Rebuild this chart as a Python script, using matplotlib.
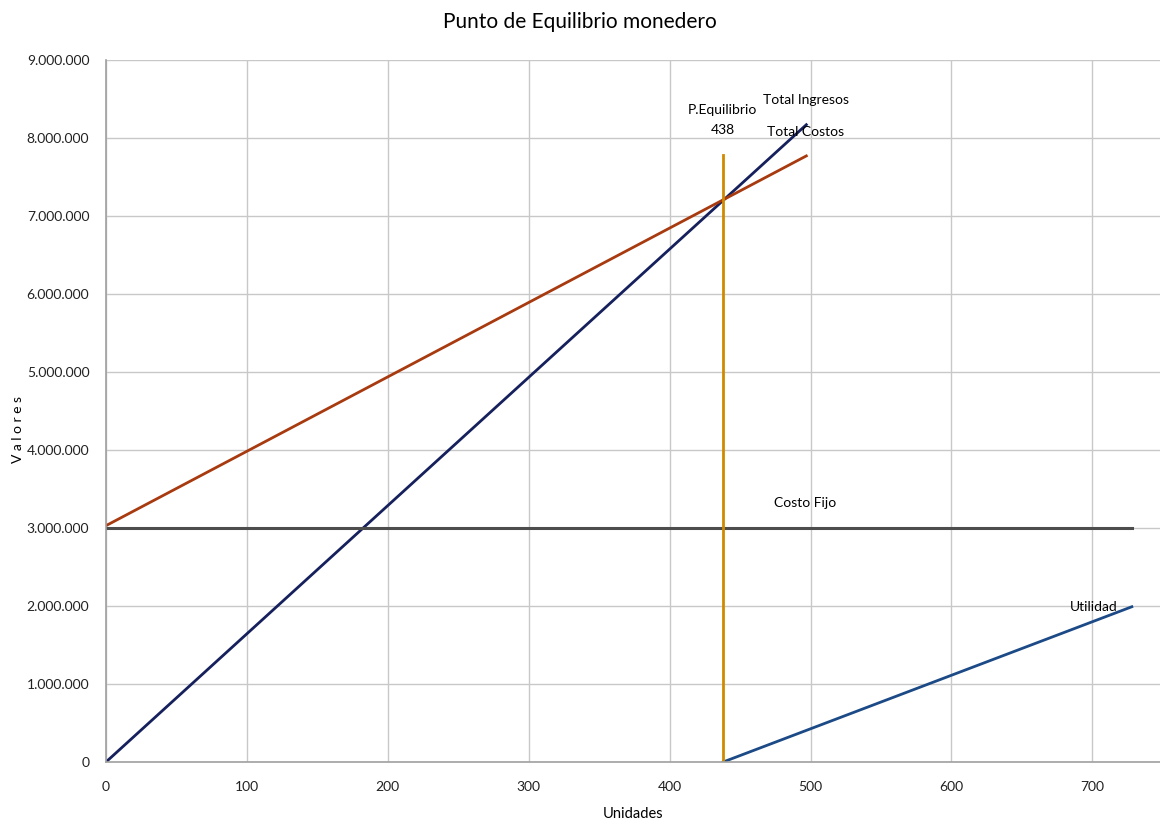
import matplotlib
matplotlib.use("Agg")
import matplotlib.pyplot as plt
from matplotlib.ticker import FuncFormatter, MultipleLocator

# datos del punto de equilibrio
unidades_ing = [0, 497]
total_ingresos = [0, 8170000]
unidades_cost = [0, 497]
total_costos = [3030000, 7770000]
unidades_fijo = [0, 728]
costo_fijo = [3000000, 3000000]
unidades_util = [438, 728]
utilidad = [0, 1990000]
pe_unidades = [438, 438]
pe_valores = [0, 7780000]

plt.rcParams['font.family'] = ['Lato', 'DejaVu Sans']

fig = plt.figure(figsize=(11.6, 8.25), dpi=100)
ax = fig.add_axes([0.0914, 0.0764, 0.9086, 0.8509])

ax.plot(unidades_ing, total_ingresos, color='#15205c', lw=2)
ax.plot(unidades_cost, total_costos, color='#a83a10', lw=2)
ax.plot(unidades_fijo, costo_fijo, color='#4d4d4d', lw=2.2)
ax.plot(unidades_util, utilidad, color='#1c4a86', lw=2)
ax.plot(pe_unidades, pe_valores, color='#d08a00', lw=2)

ax.set_xlim(0, 748)
ax.set_ylim(0, 9000000)
ax.xaxis.set_major_locator(MultipleLocator(100))
ax.yaxis.set_major_locator(MultipleLocator(1000000))
ax.yaxis.set_major_formatter(FuncFormatter(lambda v, p: f"{int(v):,}".replace(",", ".")))
ax.grid(True, color='#c8c8c8', lw=1)
ax.set_axisbelow(True)
for s in ['top', 'right']:
    ax.spines[s].set_visible(False)
for s in ['left', 'bottom']:
    ax.spines[s].set_color('#a0a0a0')
    ax.spines[s].set_linewidth(1.2)
ax.tick_params(length=0, labelsize=10, colors='#222222')
ax.tick_params(axis='y', pad=12)
ax.tick_params(axis='x', pad=14)

ax.set_xlabel("Unidades", fontsize=10.5, labelpad=10)
ax.set_ylabel("V a l o r e s", fontsize=10)
ax.yaxis.set_label_coords(-0.078, 0.473)
fig.suptitle("Punto de Equilibrio monedero", fontsize=15, y=0.985)

ax.text(496.5, 8490000, "Total Ingresos", ha='center', va='center', fontsize=10)
ax.text(496.5, 8080000, "Total Costos", ha='center', va='center', fontsize=10)
ax.text(437.6, 8360000, "P.Equilibrio", ha='center', va='center', fontsize=10)
ax.text(437.6, 8100000, "438", ha='center', va='center', fontsize=10)
ax.text(496, 3320000, "Costo Fijo", ha='center', va='center', fontsize=10)
ax.text(701, 1990000, "Utilidad", ha='center', va='center', fontsize=10)

fig.savefig("out.png", dpi=100)
